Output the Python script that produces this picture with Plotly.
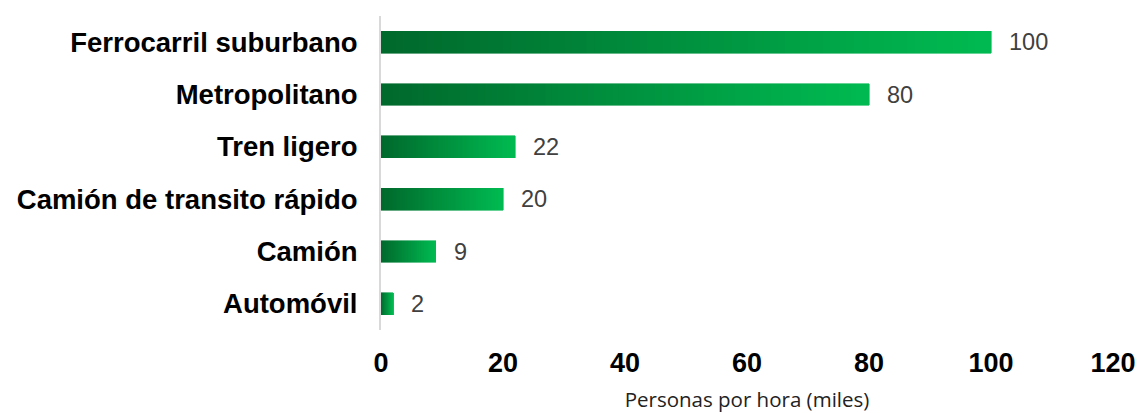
import plotly.graph_objects as go

categories = ["Ferrocarril suburbano", "Metropolitano", "Tren ligero",
              "Camión de transito rápido", "Camión", "Automóvil"]
values = [100, 80, 22, 20, 9, 2]
x_ticks = [0, 20, 40, 60, 80, 100, 120]
x_title = "Personas por hora (miles)"

dark = (0, 104, 44)
light = (0, 187, 81)
N = 80

fig = go.Figure()
for i in range(N):
    t = (i + 0.5) / N
    c = tuple(round(dark[k] + (light[k] - dark[k]) * t) for k in range(3))
    col = "rgb(%d,%d,%d)" % c
    fig.add_trace(go.Bar(
        y=categories, x=[v / N for v in values], orientation="h",
        marker=dict(color=col, line=dict(color=col, width=0.6)),
        width=0.42, showlegend=False, hoverinfo="skip"))

for cat, v in zip(categories, values):
    fig.add_annotation(x=v, y=cat, text=str(v), showarrow=False,
                       xanchor="left", xshift=16,
                       font=dict(family="Liberation Sans, Arial", size=23.5, color="#404040"))

fig.update_layout(
    barmode="stack",
    width=1140, height=413,
    margin=dict(l=381, r=27, t=16, b=83),
    paper_bgcolor="white", plot_bgcolor="white",
    xaxis=dict(range=[0, 120], tickvals=x_ticks, showgrid=False, zeroline=False,
               showline=False, ticks="", ticklabelstandoff=14, automargin=False,
               tickfont=dict(family="Liberation Sans, Arial", size=27, color="black", weight="bold"),
               title=dict(text=x_title, standoff=20,
                          font=dict(family="Open Sans, Calibri", size=20.5, color="#222"))),
    yaxis=dict(autorange="reversed", showgrid=False, zeroline=False, automargin=False,
               showline=True, linecolor="#D9D9D9", linewidth=2, ticks="",
               ticklabelstandoff=16,
               tickfont=dict(family="Liberation Sans, Arial", size=27.5, color="black", weight="bold")),
)

fig.write_html("out.html", config={"displayModeBar": False},
               post_script="document.body.style.margin='0';document.body.style.overflow='hidden';")
